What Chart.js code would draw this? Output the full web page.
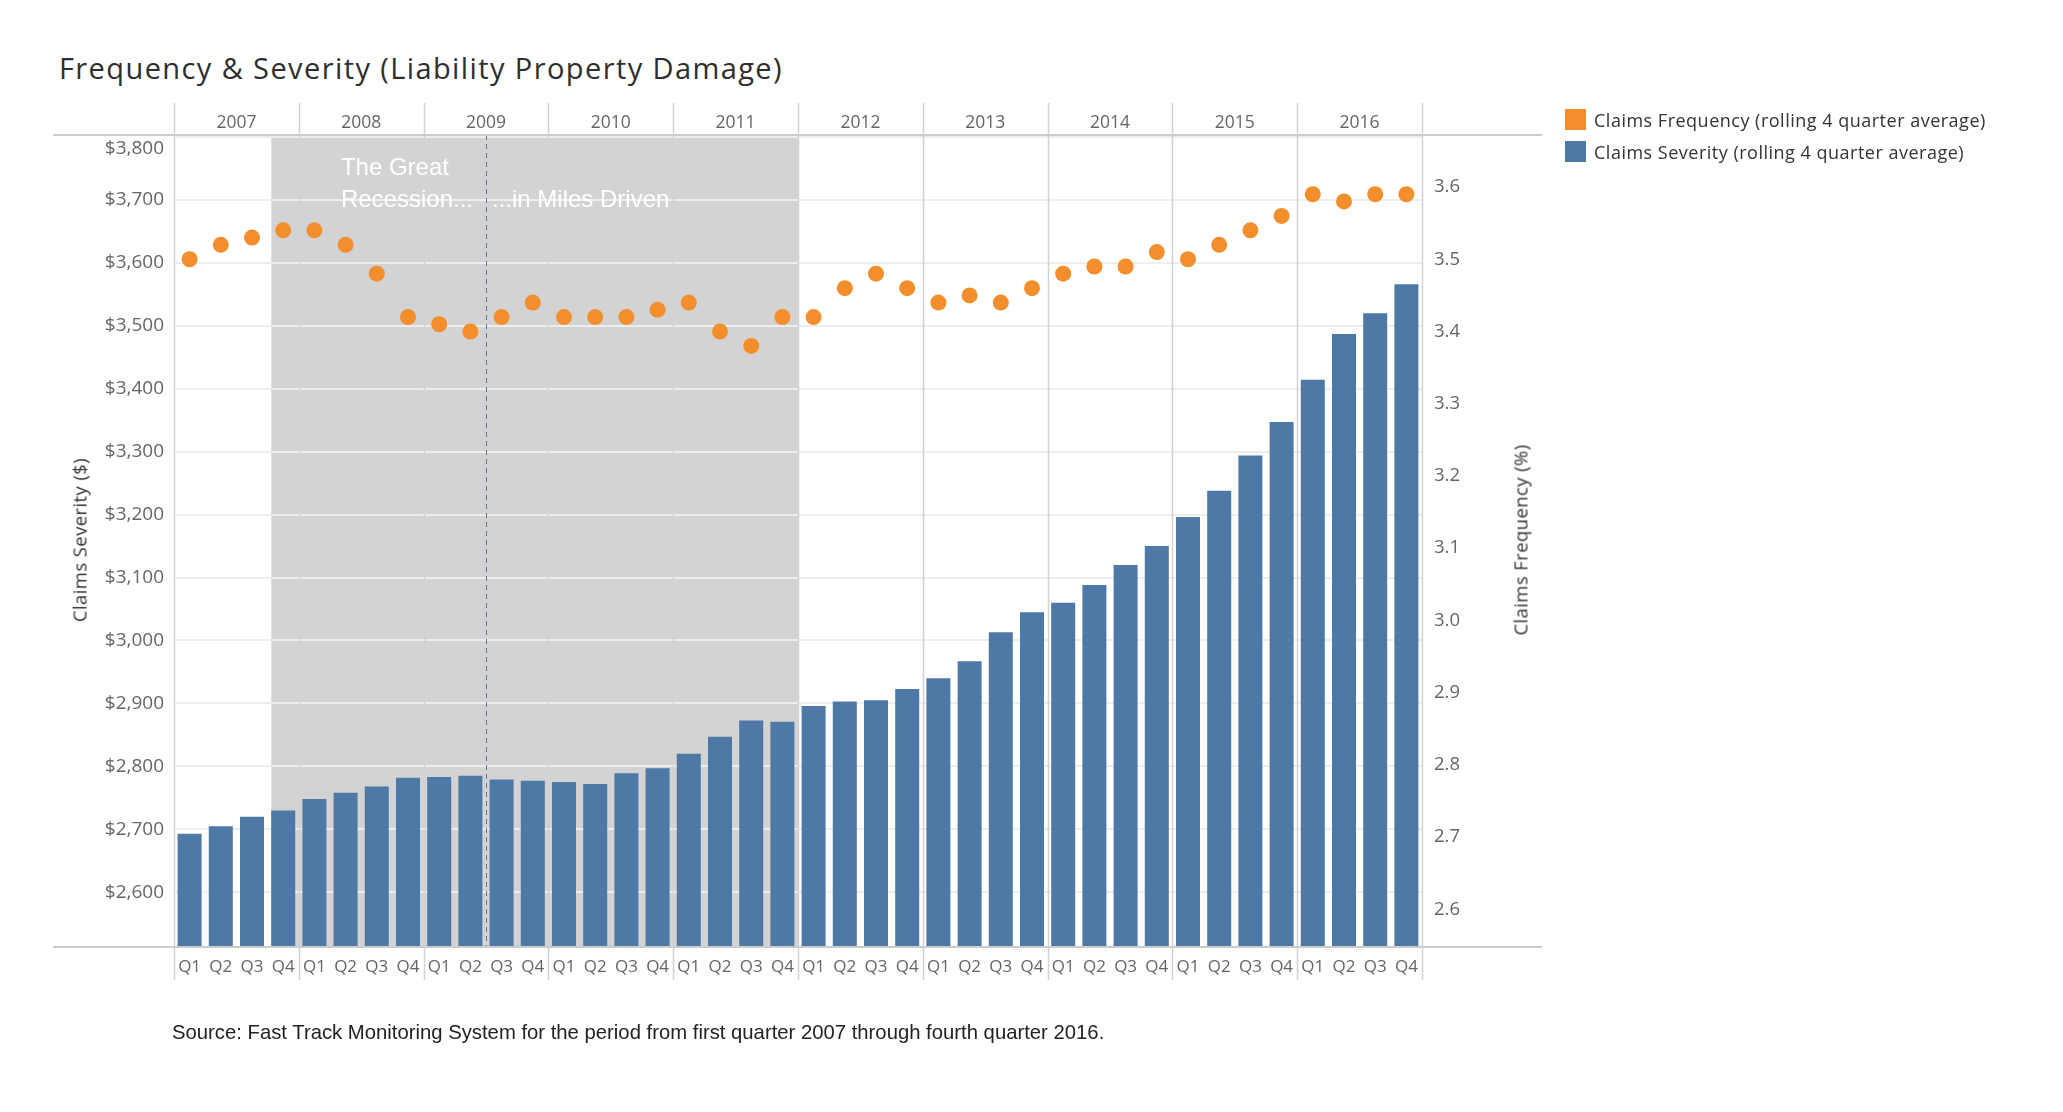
<!DOCTYPE html>
<html>
<head>
<meta charset="utf-8">
<title>Frequency & Severity (Liability Property Damage)</title>
<script src="https://cdn.jsdelivr.net/npm/chart.js@4.4.1/dist/chart.umd.min.js"></script>
<style>
  html, body { margin: 0; padding: 0; background: #fff; }
  body { width: 2063px; height: 1112px; position: relative; overflow: hidden; font-family: "Open Sans", sans-serif; }
  canvas { position: absolute; left: 0; top: 0; }
  .title { position: absolute; left: 59px; top: 48px; font-size: 29px; color: #2e2e2e; letter-spacing: 1.4px; white-space: nowrap; }
  .axis-title { position: absolute; font-size: 18.5px; color: #333; white-space: nowrap; transform: translate(-50%, -50%) rotate(-90deg); letter-spacing: 0.4px; }
  .legend { position: absolute; left: 1565px; top: 107px; }
  .legend div { position: relative; height: 32px; line-height: 26px; font-size: 18px; color: #333; padding-left: 29px; white-space: nowrap; letter-spacing: 0.5px; }
  .legend span { position: absolute; left: 0; top: 2px; width: 21px; height: 21px; }
  .source { position: absolute; left: 172px; top: 1021px; font-family: "Liberation Sans", Arial, sans-serif; font-size: 20.3px; color: #222; white-space: nowrap; }
</style>
</head>
<body>
<div class="title">Frequency &amp; Severity (Liability Property Damage)</div>
<canvas id="chart" width="2063" height="1112"></canvas>
<div class="axis-title" style="left:79px; top:540px;">Claims Severity ($)</div>
<div class="axis-title" style="left:1520px; top:540px;">Claims Frequency (%)</div>
<div class="legend">
  <div><span style="background:#f28e2b"></span>Claims Frequency (rolling 4 quarter average)</div>
  <div><span style="background:#4e79a7"></span>Claims Severity (rolling 4 quarter average)</div>
</div>
<div class="source">Source: Fast Track Monitoring System for the period from first quarter 2007 through fourth quarter 2016.</div>

<script>
// Datos del gráfico
const years = ['2007', '2008', '2009', '2010', '2011', '2012', '2013', '2014', '2015', '2016'];
const quarterNames = ['Q1', 'Q2', 'Q3', 'Q4'];
const quarterLabels = years.flatMap(() => quarterNames);

// Claims Severity ($), media móvil de 4 trimestres
const severity = [
  2693, 2705, 2720, 2730,
  2748, 2758, 2768, 2782,
  2783, 2785, 2779, 2777,
  2775, 2772, 2789, 2797,
  2820, 2847, 2873, 2871,
  2896, 2903, 2905, 2923,
  2940, 2967, 3013, 3045,
  3060, 3088, 3120, 3150,
  3196, 3238, 3294, 3347,
  3414, 3487, 3520, 3566
];

// Claims Frequency (%), media móvil de 4 trimestres
const frequency = [
  3.50, 3.52, 3.53, 3.54,
  3.54, 3.52, 3.48, 3.42,
  3.41, 3.40, 3.42, 3.44,
  3.42, 3.42, 3.42, 3.43,
  3.44, 3.40, 3.38, 3.42,
  3.42, 3.46, 3.48, 3.46,
  3.44, 3.45, 3.44, 3.46,
  3.48, 3.49, 3.49, 3.51,
  3.50, 3.52, 3.54, 3.56,
  3.59, 3.58, 3.59, 3.59
];

const severityTicks = [2600, 2700, 2800, 2900, 3000, 3100, 3200, 3300, 3400, 3500, 3600, 3700, 3800];
const frequencyTicks = [2.6, 2.7, 2.8, 2.9, 3.0, 3.1, 3.2, 3.3, 3.4, 3.5, 3.6];

// Recesión: desde 2007 Q4 hasta 2011 Q4; línea discontinua entre 2009 Q2 y Q3
const recessionStart = 2.62;
const recessionEnd = 19.5;
const milesSplit = 9.5;

const tickFont = { family: 'Open Sans', size: 17 };

// Plugin para la banda gris, separadores de años y anotaciones
const decor = {
  id: 'decor',
  beforeDraw(chart) {
    const { ctx, chartArea, scales: { x, y } } = chart;
    // la etiqueta superior ($3,800) queda dentro del panel
    const items = y.getLabelItems();
    if (items.length) items[items.length - 1].options.translation[1] += 12;

    ctx.save();
    ctx.fillStyle = '#d3d3d3';
    const x0 = x.getPixelForValue(recessionStart);
    const x1 = x.getPixelForValue(recessionEnd);
    ctx.fillRect(x0, chartArea.top, x1 - x0, chartArea.bottom - chartArea.top);
    ctx.restore();
  },
  beforeDatasetsDraw(chart) {
    const { ctx, chartArea, scales: { x } } = chart;
    ctx.save();
    // separadores de años
    ctx.strokeStyle = '#d2d2d2';
    ctx.lineWidth = 1.5;
    for (let k = 0; k <= years.length; k++) {
      const px = Math.round(x.getPixelForValue(k * 4 - 0.5)) + 0.5;
      ctx.beginPath();
      ctx.moveTo(px, 103);
      ctx.lineTo(px, 980);
      ctx.stroke();
    }
    // línea discontinua
    const dx = Math.round(x.getPixelForValue(milesSplit)) + 0.5;
    ctx.strokeStyle = '#4a78b0';
    ctx.lineWidth = 1;
    ctx.setLineDash([5, 4]);
    ctx.beginPath();
    ctx.moveTo(dx, chartArea.top);
    ctx.lineTo(dx, chartArea.bottom);
    ctx.stroke();
    ctx.restore();
  },
  afterDatasetsDraw(chart) {
    const { ctx, chartArea, scales: { x } } = chart;
    ctx.save();
    ctx.fillStyle = '#ffffff';
    ctx.font = '24px "Liberation Sans", Arial, sans-serif';
    ctx.textBaseline = 'middle';
    ctx.textAlign = 'left';
    const tx = x.getPixelForValue(4.85);
    ctx.fillText('The Great', tx, chartArea.top + 33);
    ctx.fillText('Recession...', tx, chartArea.top + 65);
    ctx.fillText('...in Miles Driven', x.getPixelForValue(milesSplit) + 6, chartArea.top + 65);
    ctx.restore();
  },
  afterDraw(chart) {
    const { ctx, chartArea } = chart;
    ctx.save();
    ctx.strokeStyle = '#cccccc';
    ctx.lineWidth = 2;
    [chartArea.top, chartArea.bottom].forEach(py => {
      ctx.beginPath();
      ctx.moveTo(53, py);
      ctx.lineTo(1542, py);
      ctx.stroke();
    });
    ctx.restore();
  }
};

const chart = new Chart(document.getElementById('chart').getContext('2d'), {
  data: {
    labels: quarterLabels,
    datasets: [
      {
        type: 'line',
        label: 'Claims Frequency (rolling 4 quarter average)',
        data: frequency,
        yAxisID: 'y2',
        showLine: false,
        pointRadius: 8,
        pointBorderWidth: 0,
        pointBackgroundColor: '#f28e2b',
        backgroundColor: '#f28e2b',
        order: 0
      },
      {
        type: 'bar',
        label: 'Claims Severity (rolling 4 quarter average)',
        data: severity,
        yAxisID: 'y',
        backgroundColor: '#4e79a7',
        barPercentage: 0.77,
        categoryPercentage: 1.0,
        order: 1
      }
    ]
  },
  options: {
    responsive: false,
    animation: false,
    devicePixelRatio: 1,
    layout: { padding: { left: 0, right: 0, top: 103, bottom: 125 } },
    plugins: { legend: { display: false }, tooltip: { enabled: false } },
    scales: {
      x: {
        type: 'category',
        position: 'bottom',
        offset: true,
        grid: { display: false, drawTicks: false },
        border: { display: false },
        ticks: { font: tickFont, color: '#666', padding: 10, maxRotation: 0, autoSkip: false },
        afterFit(s) { s.height = 40; }
      },
      x2: {
        type: 'category',
        position: 'top',
        labels: years,
        offset: true,
        grid: { display: false, drawTicks: false },
        border: { display: false },
        ticks: { font: { family: 'Open Sans', size: 17.5 }, color: '#666', padding: 1, maxRotation: 0, autoSkip: false },
        afterFit(s) { s.height = 32; }
      },
      y: {
        type: 'linear',
        position: 'left',
        min: 2513,
        max: 3803,
        afterBuildTicks(s) { s.ticks = severityTicks.map(v => ({ value: v })); },
        grid: { color: '#eeeeee', lineWidth: 2, drawTicks: false },
        border: { display: false },
        ticks: {
          font: { family: 'Open Sans', size: 19 },
          color: '#666',
          padding: 10,
          callback: v => '$' + v.toLocaleString('en-US')
        },
        afterFit(s) { s.width = 174; }
      },
      y2: {
        type: 'linear',
        position: 'right',
        min: 2.548,
        max: 3.672,
        afterBuildTicks(s) { s.ticks = frequencyTicks.map(v => ({ value: v })); },
        grid: { display: false, drawTicks: false },
        border: { display: false },
        ticks: {
          font: { family: 'Open Sans', size: 18.5 },
          color: '#666',
          padding: 12,
          callback: v => v.toFixed(1)
        },
        afterFit(s) { s.width = 641; }
      }
    }
  },
  plugins: [decor]
});
</script>
</body>
</html>
